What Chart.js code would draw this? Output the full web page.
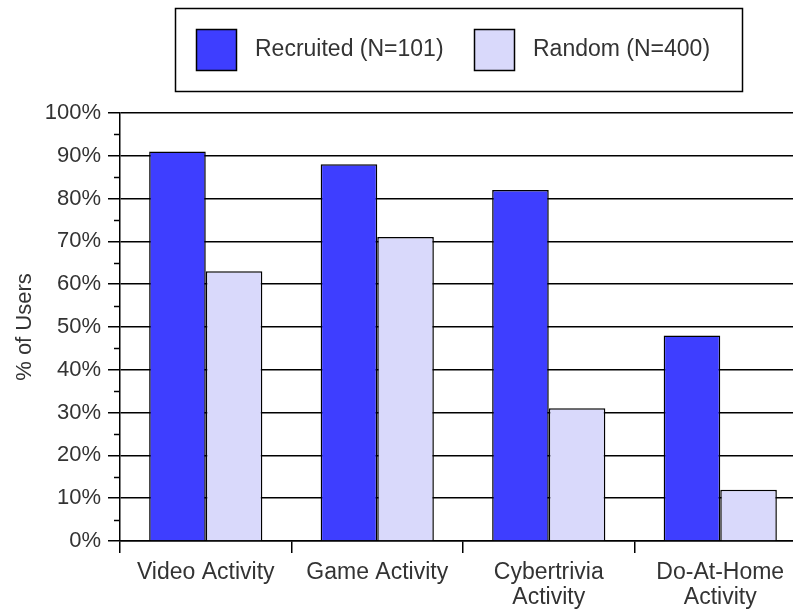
<!DOCTYPE html>
<html>
<head>
<meta charset="utf-8">
<script src="https://cdn.jsdelivr.net/npm/chart.js@4.4.1/dist/chart.umd.min.js"></script>
<style>
  html, body { margin: 0; padding: 0; background: #fff; overflow: hidden; }
  #wrap { width: 808px; height: 609px; }
</style>
</head>
<body>
<div id="wrap"><canvas id="myChart"></canvas></div>
<script>
const categories = ['Video Activity', 'Game Activity', ['Cybertrivia', 'Activity'], ['Do-At-Home', 'Activity']];
const seriesNames = ['Recruited (N=101)', 'Random (N=400)'];
const recruited = [91, 88, 82, 48];
const random = [63, 71, 31, 12];
const yTicks = [0, 10, 20, 30, 40, 50, 60, 70, 80, 90, 100];

const colors = ['#3e3eff', '#d9d9fb'];
const txt = '#333333';
const fontFam = '"Liberation Sans", Arial, sans-serif';

// legend box at the top + small minor ticks on the y axis
const extras = {
  id: 'extras',
  afterDraw(chart) {
    const ctx = chart.ctx;
    const y = chart.scales.y;
    ctx.save();
    // minor ticks (every 5%)
    ctx.strokeStyle = '#000';
    ctx.lineWidth = 1.5;
    for (let v = 5; v < 100; v += 10) {
      const py = Math.round(y.getPixelForValue(v)) + 0.5;
      ctx.beginPath();
      ctx.moveTo(y.right - 6, py);
      ctx.lineTo(y.right, py);
      ctx.stroke();
    }
    // legend
    ctx.lineWidth = 1.5;
    ctx.strokeRect(175.5, 8.5, 567, 83);
    const items = [
      { x: 196, label: seriesNames[0], color: colors[0], tx: 255 },
      { x: 474, label: seriesNames[1], color: colors[1], tx: 533 }
    ];
    ctx.font = '23px ' + fontFam;
    ctx.textBaseline = 'middle';
    ctx.textAlign = 'left';
    items.forEach(it => {
      ctx.fillStyle = it.color;
      ctx.fillRect(it.x, 29, 40, 41);
      ctx.strokeRect(it.x + 0.5, 29.5, 40, 41);
      ctx.fillStyle = txt;
      ctx.fillText(it.label, it.tx, 50);
    });
    ctx.restore();
  }
};

new Chart(document.getElementById('myChart'), {
  type: 'bar',
  data: {
    labels: categories,
    datasets: [
      { label: seriesNames[0], data: recruited, backgroundColor: colors[0], borderColor: '#000', borderWidth: 1.5 },
      { label: seriesNames[1], data: random, backgroundColor: colors[1], borderColor: '#000', borderWidth: 1.5 }
    ]
  },
  options: {
    responsive: true,
    maintainAspectRatio: false,
    animation: false,
    categoryPercentage: 0.66,
    barPercentage: 1,
    layout: { padding: { top: 113, right: 2, left: 0, bottom: 0 } },
    plugins: {
      legend: { display: false },
      tooltip: { enabled: false }
    },
    scales: {
      x: {
        grid: { offset: true, drawOnChartArea: false, color: '#000', lineWidth: 1.5, tickLength: 12 },
        border: { color: '#000', width: 1.5 },
        ticks: { color: txt, font: { family: fontFam, size: 23, lineHeight: 1.1 }, padding: 7, maxRotation: 0, autoSkip: false },
        afterFit(scale) { scale.height = 68; }
      },
      y: {
        min: 0,
        max: 100,
        afterBuildTicks(scale) { scale.ticks = yTicks.map(v => ({ value: v })); },
        grid: { color: '#000', lineWidth: 1.5, tickLength: 12 },
        border: { color: '#000', width: 1.5 },
        ticks: {
          color: txt,
          font: { family: fontFam, size: 22 },
          padding: 7,
          callback: v => v + '%'
        },
        title: { display: true, text: '% of Users', color: txt, font: { family: fontFam, size: 22 }, padding: { top: 12, bottom: 0 } },
        afterFit(scale) { scale.width = 120; }
      }
    }
  },
  plugins: [extras]
});
</script>
</body>
</html>
